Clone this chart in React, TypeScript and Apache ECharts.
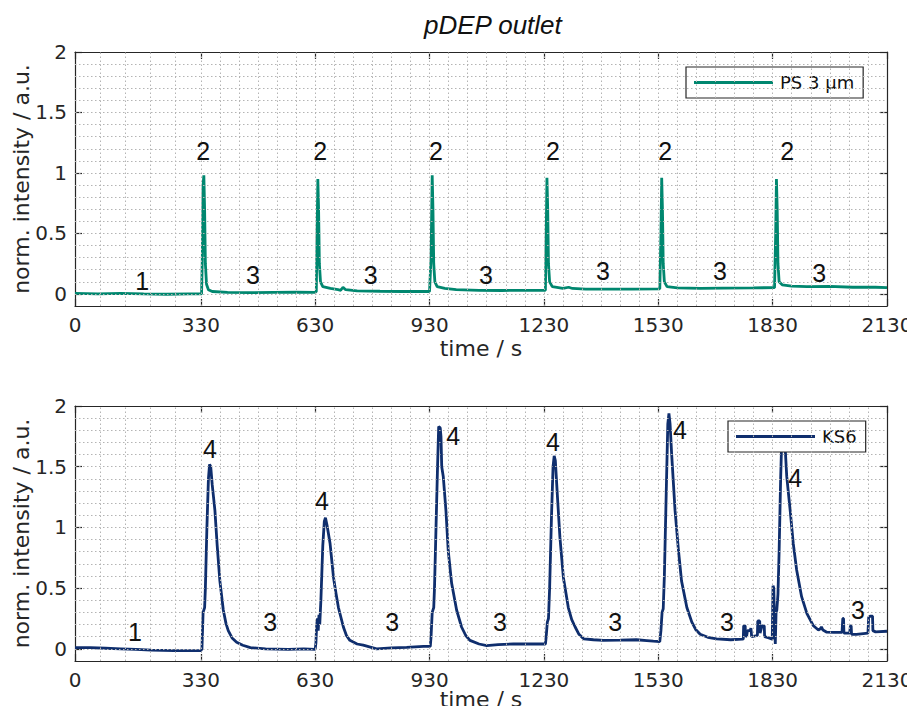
import React, { useEffect, useRef } from "react";
import * as echarts from "echarts";

// ---- axis ticks / grid positions ----
const xTickLabels = [0, 330, 630, 930, 1230, 1530, 1830, 2130];
const xGridLines = [66, 132, 198, 264, 330, 380, 430, 480, 530, 580, 630, 680, 730, 780, 830, 880, 930, 980, 1030, 1080, 1130, 1180, 1230, 1280, 1330, 1380, 1430, 1480, 1530, 1580, 1630, 1680, 1730, 1780, 1830, 1880, 1930, 1980, 2030, 2080];
const yTickLabels = [0, 0.5, 1, 1.5, 2];
const yGridLines = [0, 0.1, 0.2, 0.3, 0.4, 0.5, 0.6, 0.7, 0.8, 0.9, 1, 1.1, 1.2, 1.3, 1.4, 1.5, 1.6, 1.7, 1.8, 1.9];

// ---- PS 3 µm (top) ----
const psTime = [0, 60, 120, 180, 240, 300, 332, 334, 336, 338, 340, 342, 345, 350, 360, 400, 460, 520, 580, 630, 633, 635, 637, 639, 641, 644, 650, 670, 690, 697, 703, 710, 740, 800, 860, 930, 934, 937, 939, 941, 944, 950, 970, 1000, 1060, 1120, 1180, 1234, 1236, 1238, 1240, 1242, 1245, 1252, 1280, 1295, 1305, 1340, 1400, 1460, 1534, 1537, 1539, 1541, 1543, 1546, 1553, 1580, 1640, 1700, 1780, 1835, 1838, 1840, 1842, 1844, 1847, 1855, 1880, 1920, 1980, 2040, 2100, 2130];
const psValue = [0.005, 0.0, 0.005, 0.0, -0.003, 0.0, 0.0, 0.3, 0.9, 0.98, 0.7, 0.25, 0.08, 0.035, 0.02, 0.012, 0.01, 0.013, 0.015, 0.013, 0.02, 0.5, 0.95, 0.7, 0.25, 0.1, 0.06, 0.045, 0.035, 0.03, 0.055, 0.035, 0.025, 0.022, 0.02, 0.02, 0.3, 0.98, 0.7, 0.25, 0.1, 0.06, 0.045, 0.035, 0.03, 0.028, 0.03, 0.03, 0.5, 0.96, 0.7, 0.25, 0.1, 0.06, 0.045, 0.055, 0.045, 0.04, 0.04, 0.04, 0.042, 0.5, 0.96, 0.7, 0.25, 0.1, 0.06, 0.05, 0.045, 0.048, 0.05, 0.052, 0.5, 0.95, 0.7, 0.25, 0.1, 0.075, 0.065, 0.06, 0.062, 0.055, 0.055, 0.052];

// ---- KS6 (bottom) ----
const ksTime = [0, 40, 80, 120, 160, 200, 260, 300, 330, 333, 336, 340, 342, 346, 350, 353, 356, 360, 367, 373, 380, 389, 396, 402, 412, 424, 440, 460, 500, 560, 600, 630, 632, 634, 636, 638, 640, 642, 645, 650, 654, 657, 661, 669, 678, 685, 691, 704, 712, 721, 740, 756, 791, 830, 870, 914, 932, 934, 937, 941, 943, 947, 951, 954, 958, 960, 962, 966, 973, 979, 988, 1001, 1014, 1025, 1036, 1060, 1080, 1110, 1150, 1190, 1234, 1236, 1239, 1242, 1245, 1250, 1254, 1257, 1260, 1265, 1272, 1281, 1294, 1303, 1312, 1322, 1334, 1360, 1386, 1430, 1473, 1500, 1517, 1534, 1537, 1540, 1543, 1546, 1551, 1555, 1558, 1561, 1565, 1574, 1583, 1591, 1605, 1618, 1628, 1640, 1660, 1683, 1720, 1750, 1753, 1754, 1758, 1759, 1762, 1764, 1771, 1773, 1775, 1790, 1791, 1796, 1797, 1802, 1808, 1809, 1820, 1829, 1831, 1833, 1835, 1837, 1839, 1841, 1844, 1847, 1851, 1855, 1859, 1863, 1867, 1876, 1884, 1893, 1906, 1920, 1937, 1950, 1955, 1958, 1962, 1972, 1990, 2012, 2014, 2016, 2017, 2032, 2034, 2036, 2037, 2050, 2080, 2082, 2086, 2092, 2093, 2100, 2130];
const ksValue = [0.01, 0.01, 0.005, 0.0, -0.005, -0.01, -0.015, -0.015, -0.015, 0.0, 0.3, 0.34, 0.5, 1.0, 1.4, 1.52, 1.5, 1.35, 1.14, 0.85, 0.56, 0.32, 0.21, 0.15, 0.09, 0.055, 0.03, 0.01, 0.0, -0.005, 0.0, -0.005, 0.05, 0.2, 0.25, 0.15, 0.28, 0.2, 0.4, 0.85, 1.05, 1.08, 1.02, 0.87, 0.59, 0.45, 0.34, 0.18, 0.11, 0.07, 0.04, 0.03, 0.0, 0.008, 0.013, 0.02, 0.02, 0.1, 0.3, 0.34, 0.5, 1.0, 1.5, 1.83, 1.82, 1.75, 1.5, 1.42, 1.14, 0.81, 0.54, 0.32, 0.18, 0.11, 0.07, 0.04, 0.027, 0.035, 0.04, 0.04, 0.04, 0.1, 0.22, 0.25, 0.5, 1.1, 1.5, 1.59, 1.55, 1.28, 0.92, 0.59, 0.34, 0.24, 0.18, 0.12, 0.083, 0.075, 0.07, 0.072, 0.075, 0.068, 0.063, 0.06, 0.15, 0.3, 0.33, 0.6, 1.3, 1.85, 1.94, 1.85, 1.61, 1.14, 0.81, 0.56, 0.34, 0.22, 0.16, 0.12, 0.095, 0.083, 0.075, 0.08, 0.08, 0.19, 0.19, 0.1, 0.11, 0.15, 0.15, 0.17, 0.1, 0.11, 0.23, 0.23, 0.13, 0.19, 0.19, 0.1, 0.09, 0.08, 0.52, 0.5, 0.2, 0.04, 0.3, 0.32, 0.45, 0.8, 1.4, 1.85, 1.82, 1.65, 1.42, 1.14, 0.87, 0.65, 0.43, 0.29, 0.19, 0.155, 0.165, 0.18, 0.155, 0.137, 0.135, 0.135, 0.25, 0.25, 0.13, 0.13, 0.19, 0.19, 0.12, 0.12, 0.13, 0.26, 0.27, 0.27, 0.15, 0.14, 0.145];

// ---- annotations ----
const psNoteText = ["1", "2", "2", "2", "2", "2", "2", "3", "3", "3", "3", "3", "3"];
const psNoteTime = [176, 336, 643, 947, 1254, 1548, 1868, 467, 776, 1078, 1385, 1692, 1952];
const psNoteValue = [0.11, 1.18, 1.18, 1.18, 1.18, 1.18, 1.18, 0.16, 0.16, 0.16, 0.19, 0.19, 0.17];
const ksNoteText = ["1", "4", "4", "4", "4", "4", "4", "3", "3", "3", "3", "3", "3"];
const ksNoteTime = [157, 354, 648, 992, 1254, 1587, 1889, 512, 832, 1115, 1417, 1710, 2054];
const ksNoteValue = [0.14, 1.65, 1.22, 1.75, 1.7, 1.8, 1.41, 0.22, 0.22, 0.22, 0.22, 0.22, 0.32];

const PS_NAME = "PS 3 \u00b5m";
const KS_NAME = "KS6";
const PS_COLOR = "#00876f";
const KS_COLOR = "#0f2e6d";
const AXIS_COLOR = "#262626";
const TICK_FONT = "DejaVu Sans";

function zip(a: number[], b: number[]) {
  return a.map((t, i) => [t, b[i]]);
}

function notes(text: string[], t: number[], v: number[]) {
  return text.map((s, i) => ({
    coord: [t[i], v[i]],
    value: s,
    symbol: "rect",
    symbolSize: 1,
    itemStyle: { color: "rgba(0,0,0,0)" },
    label: {
      show: true,
      position: "inside",
      formatter: s,
      color: "#111",
      fontSize: 25,
      fontFamily: "Liberation Sans",
    },
  }));
}

function gridSeries(idx: number) {
  return {
    type: "line",
    name: "grid" + idx,
    xAxisIndex: idx,
    yAxisIndex: idx,
    data: [],
    z: 1,
    silent: true,
    markLine: {
      silent: true,
      symbol: ["none", "none"],
      label: { show: false },
      lineStyle: { type: [1.5, 2.5], color: "#b4b4b4", width: 1 },
      data: [
        ...xGridLines.map((x) => ({ xAxis: x })),
        ...yGridLines.map((y) => ({ yAxis: y })),
      ],
    },
  };
}

const plainNum = (v: number) => String(v);

function mainX(gi: number, gap: number) {
  return {
    type: "value",
    gridIndex: gi,
    min: 0,
    max: 2130,
    name: "time / s",
    nameLocation: "middle",
    nameGap: gap,
    nameMoveOverlap: false,
    nameTextStyle: { fontSize: 22, fontFamily: TICK_FONT, color: AXIS_COLOR, verticalAlign: "top" },
    axisLine: { show: true, onZero: false, lineStyle: { color: AXIS_COLOR, width: 1.2 } },
    axisTick: { show: true, inside: true, length: 7, customValues: xTickLabels, lineStyle: { color: AXIS_COLOR, width: 1.2 } },
    axisLabel: { customValues: xTickLabels, formatter: plainNum, fontSize: 20, fontFamily: TICK_FONT, color: AXIS_COLOR, margin: 9 },
    splitLine: { show: false },
  };
}
function topX(gi: number) {
  return {
    type: "value",
    gridIndex: gi,
    position: "top",
    min: 0,
    max: 2130,
    axisLine: { show: true, onZero: false, lineStyle: { color: AXIS_COLOR, width: 1.2 } },
    axisTick: { show: true, inside: true, length: 7, customValues: xTickLabels, lineStyle: { color: AXIS_COLOR, width: 1.2 } },
    axisLabel: { show: false },
    splitLine: { show: false },
  };
}
function mainY(gi: number) {
  return {
    type: "value",
    gridIndex: gi,
    min: -0.1,
    max: 2,
    name: "norm. intensity / a.u.",
    nameLocation: "middle",
    nameGap: 43,
    nameMoveOverlap: false,
    nameTextStyle: { fontSize: 22, fontFamily: TICK_FONT, color: AXIS_COLOR },
    axisLine: { show: true, onZero: false, lineStyle: { color: AXIS_COLOR, width: 1.2 } },
    axisTick: { show: true, inside: true, length: 7, customValues: yTickLabels, lineStyle: { color: AXIS_COLOR, width: 1.2 } },
    axisLabel: { customValues: yTickLabels, formatter: plainNum, fontSize: 20, fontFamily: TICK_FONT, color: AXIS_COLOR, margin: 8 },
    splitLine: { show: false },
  };
}
function rightY(gi: number) {
  return {
    type: "value",
    gridIndex: gi,
    position: "right",
    min: -0.1,
    max: 2,
    axisLine: { show: true, onZero: false, lineStyle: { color: AXIS_COLOR, width: 1.2 } },
    axisTick: { show: true, inside: true, length: 7, customValues: yTickLabels, lineStyle: { color: AXIS_COLOR, width: 1.2 } },
    axisLabel: { show: false },
    splitLine: { show: false },
  };
}

function legendOf(name: string, left: number, top: number) {
  return {
    data: [{ name, icon: "rect" }],
    left,
    top,
    orient: "horizontal",
    padding: [6, 9, 6, 8],
    itemWidth: 79,
    itemHeight: 3,
    itemGap: 0,
    backgroundColor: "#ffffff",
    borderColor: AXIS_COLOR,
    borderWidth: 1.2,
    borderRadius: 0,
    selectedMode: false,
    textStyle: { fontSize: 18, lineHeight: 19, fontFamily: TICK_FONT, color: "#111", padding: [0, 0, 0, 2] },
  };
}

export default function App() {
  const ref = useRef<HTMLDivElement>(null);
  useEffect(() => {
    if (!ref.current) return;
    const chart = echarts.init(ref.current, undefined, { renderer: "svg" });
    chart.setOption({
      animation: false,
      backgroundColor: "#ffffff",
      title: {
        text: "pDEP outlet",
        left: 419,
        top: 7,
        textStyle: { fontSize: 26, fontStyle: "italic", fontWeight: "normal", fontFamily: "Liberation Sans", color: "#111" },
      },
      legend: [legendOf(PS_NAME, 686, 67), legendOf(KS_NAME, 728, 421)],
      grid: [
        { left: 75, top: 52, width: 812, height: 254, outerBoundsMode: "none", containLabel: false },
        { left: 75, top: 406, width: 812, height: 255, outerBoundsMode: "none", containLabel: false },
      ],
      xAxis: [mainX(0, 31), mainX(1, 27), topX(0), topX(1)],
      yAxis: [mainY(0), mainY(1), rightY(0), rightY(1)],
      series: [
        gridSeries(0),
        gridSeries(1),
        {
          type: "line",
          name: PS_NAME,
          xAxisIndex: 0,
          yAxisIndex: 0,
          data: zip(psTime, psValue),
          showSymbol: false,
          symbol: "none",
          z: 3,
          lineStyle: { color: PS_COLOR, width: 2.8 },
          itemStyle: { color: PS_COLOR },
          markPoint: { silent: true, data: notes(psNoteText, psNoteTime, psNoteValue) },
        },
        {
          type: "line",
          name: KS_NAME,
          xAxisIndex: 1,
          yAxisIndex: 1,
          data: zip(ksTime, ksValue),
          showSymbol: false,
          symbol: "none",
          z: 3,
          lineStyle: { color: KS_COLOR, width: 2.8 },
          itemStyle: { color: KS_COLOR },
          markPoint: { silent: true, data: notes(ksNoteText, ksNoteTime, ksNoteValue) },
        },
      ],
    });
    return () => chart.dispose();
  }, []);
  return <div ref={ref} style={{ width: 915, height: 714, margin: -8 }} />;
}
